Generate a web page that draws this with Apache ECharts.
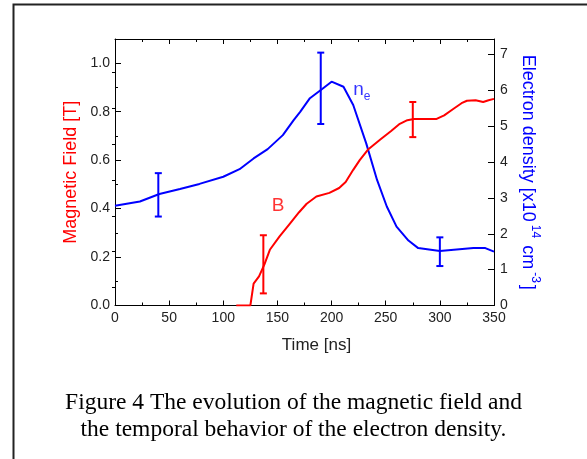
<!DOCTYPE html>
<html><head><meta charset="utf-8">
<script src="https://cdn.jsdelivr.net/npm/echarts@6/dist/echarts.min.js"></script>
<style>html,body{margin:0;padding:0;background:#fff}#c{width:587px;height:459px}</style>
</head><body><div id="c"></div>
<script>
// Magnetic field B [T] vs time [ns]
const bTime = [112,125,128,133,138,143,152,161,170,177,186,198,207,213,220,226,234,245,255,263,270,276,297,304,312,320,325,333,340,345,350];
const bVal  = [0,0,0.09,0.12,0.17,0.23,0.285,0.335,0.385,0.42,0.45,0.465,0.485,0.51,0.56,0.60,0.645,0.685,0.72,0.75,0.765,0.77,0.77,0.785,0.81,0.835,0.845,0.847,0.84,0.847,0.853];
// Electron density [x10^14 cm^-3] vs time [ns]
const neTime = [0,23,41,60,78,100,115,128,141,155,165,171,180,191,200,211,220,232,242,251,260,271,280,300,331,342,350];
const neVal  = [2.78,2.90,3.11,3.25,3.39,3.59,3.80,4.10,4.36,4.75,5.17,5.40,5.78,6.03,6.24,6.10,5.59,4.52,3.50,2.76,2.20,1.81,1.60,1.52,1.60,1.60,1.50];
// Error bars: [time, low, high]
const bErr  = [[137,0.05,0.29],[275,0.695,0.84]];
const neErr = [[40,2.48,3.69],[190,5.06,7.05],[300,1.10,1.90]];
// Tick values
const leftMajor = [0,0.2,0.4,0.6,0.8,1.0];
const leftMinor = [0.1,0.3,0.5,0.7,0.9];
const rightMajor = [0,1,2,3,4,5,6,7];
const rightMinor = [0.5,1.5,2.5,3.5,4.5,5.5,6.5];
// Curve annotations: [time, value]
const bLabelPos = [150.5, 0.41];
const neLabelPos = [228, 6.06];

const zip = (a,b) => a.map((v,i)=>[v,b[i]]);
const chart = echarts.init(document.getElementById('c'), null, {renderer:'canvas'});

const SANS = 'Liberation Sans, Arial, sans-serif';
const axisFont = {fontFamily:SANS, fontSize:14, color:'#222'};
function errRender(color){
  return function(params, api){
    const x = api.value(0);
    const top = api.coord([x, api.value(2)]);
    const bot = api.coord([x, api.value(1)]);
    const w = 3.5;
    const st = {stroke:color, lineWidth:2};
    return {type:'group', children:[
      {type:'line', shape:{x1:top[0],y1:top[1],x2:bot[0],y2:bot[1]}, style:st},
      {type:'line', shape:{x1:top[0]-w,y1:top[1],x2:top[0]+w,y2:top[1]}, style:st},
      {type:'line', shape:{x1:bot[0]-w,y1:bot[1],x2:bot[0]+w,y2:bot[1]}, style:st}
    ]};
  };
}
const line = {show:true, onZero:false, lineStyle:{color:'#000', width:1}};

const option = {
  backgroundColor:'#fff',
  animation:false,
  grid:{left:115, right:93, top:39, bottom:153.5, containLabel:false},
  xAxis:[
    {type:'value', position:'bottom', min:0, max:350, interval:50,
     axisLine:line,
     axisTick:{show:true, inside:true, length:5, lineStyle:{color:'#000'}},
     minorTick:{show:true, splitNumber:2, length:3, lineStyle:{color:'#000'}},
     splitLine:{show:false},
     axisLabel:Object.assign({margin:6}, axisFont),
     name:'Time [ns]', nameLocation:'middle', nameGap:31,
     nameTextStyle:{fontFamily:SANS, fontSize:17, color:'#222', padding:[0,0,0,24]}},
    {type:'value', position:'top', min:0, max:350, interval:50,
     axisLine:line,
     axisTick:{show:true, inside:true, length:5, lineStyle:{color:'#000'}},
     minorTick:{show:true, splitNumber:2, length:3, lineStyle:{color:'#000'}},
     splitLine:{show:false}, axisLabel:{show:false}}
  ],
  yAxis:[
    {type:'value', position:'left', min:0, max:1.1,
     axisLine:line,
     axisTick:{show:true, inside:true, length:6, customValues:leftMajor, lineStyle:{color:'#000'}},
     axisLabel:Object.assign({margin:5, customValues:leftMajor, formatter:v=>v.toFixed(1)}, axisFont),
     splitLine:{show:false},
     name:'Magnetic Field [T]', nameLocation:'middle', nameGap:34,
     nameTextStyle:{fontFamily:SANS, fontSize:18, color:'#ff0000'}},
    {type:'value', position:'left', min:0, max:1.1,
     axisLine:{show:false},
     axisTick:{show:true, inside:true, length:3, customValues:leftMinor, lineStyle:{color:'#000'}},
     axisLabel:{show:false}, splitLine:{show:false}},
    {type:'value', position:'right', min:0, max:7.43,
     axisLine:line,
     axisTick:{show:true, inside:true, length:6, customValues:rightMajor, lineStyle:{color:'#000'}},
     axisLabel:Object.assign({margin:6, customValues:rightMajor}, axisFont),
     splitLine:{show:false},
     name:'{t|Electron density [x10}{s|14}{t| cm}{s|-3}{t|]}', nameLocation:'middle', nameGap:25, nameRotate:-90,
     nameTextStyle:{rich:{
       t:{fontFamily:SANS, fontSize:18, color:'#0000ff', verticalAlign:'bottom', lineHeight:22},
       s:{fontFamily:SANS, fontSize:12, color:'#0000ff', verticalAlign:'top', lineHeight:22, padding:[0,2,8,3]}
     }}},
    {type:'value', position:'right', min:0, max:7.43,
     axisLine:{show:false},
     axisTick:{show:true, inside:true, length:3, customValues:rightMinor, lineStyle:{color:'#000'}},
     axisLabel:{show:false}, splitLine:{show:false}}
  ],
  series:[
    {type:'line', name:'ne', xAxisIndex:0, yAxisIndex:2, data:zip(neTime,neVal), showSymbol:false, smooth:false,
     lineStyle:{color:'#0000ff', width:2}, itemStyle:{color:'#0000ff'}, z:2},
    {type:'line', name:'B', xAxisIndex:0, yAxisIndex:0, data:zip(bTime,bVal), showSymbol:false, smooth:false,
     lineStyle:{color:'#ff0000', width:2}, itemStyle:{color:'#ff0000'}, z:3},
    {type:'custom', xAxisIndex:0, yAxisIndex:2, data:neErr, renderItem:errRender('#0000ff'), z:4},
    {type:'custom', xAxisIndex:0, yAxisIndex:0, data:bErr, renderItem:errRender('#ff0000'), z:4},
    {type:'scatter', xAxisIndex:0, yAxisIndex:0, data:[bLabelPos], symbolSize:0,
     label:{show:true, position:'inside', formatter:'B', fontFamily:SANS, fontSize:19, color:'#ff0000'}},
    {type:'scatter', xAxisIndex:0, yAxisIndex:2, data:[neLabelPos], symbolSize:0,
     label:{show:true, position:'inside', formatter:'{n|n}{e|e}',
       rich:{n:{fontFamily:SANS, fontSize:19, color:'#0000ff', verticalAlign:'bottom', lineHeight:22},
             e:{fontFamily:SANS, fontSize:12, color:'#0000ff', verticalAlign:'bottom', lineHeight:22, padding:[0,0,-4,0]}}}}
  ],
  graphic:[
    {type:'rect', left:11, top:2, shape:{width:600, height:480}, style:{fill:'none', stroke:'#222', lineWidth:2}, silent:true, z:-1},
    {type:'text', left:'center', top:389, style:{text:'Figure 4 The evolution of the magnetic field and\nthe temporal behavior of the electron density.', font:'23.5px "Liberation Serif", "Times New Roman", serif', fill:'#000', textAlign:'center', lineHeight:27}}
  ]
};
chart.setOption(option);
</script></body></html>
